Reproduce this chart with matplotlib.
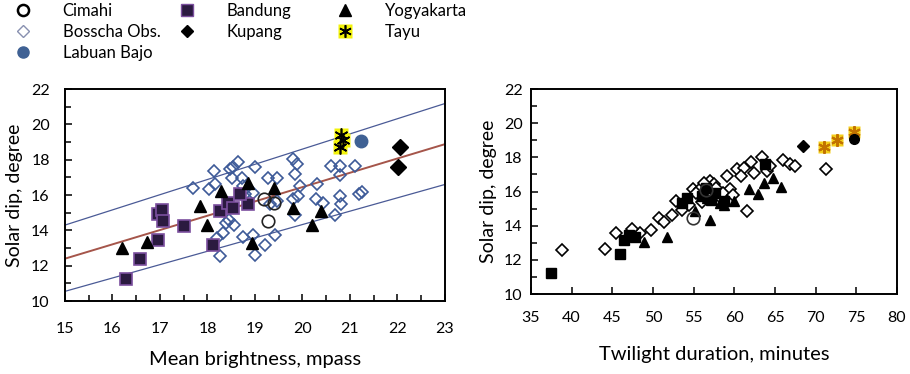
import numpy as np
import matplotlib.pyplot as plt
from matplotlib.lines import Line2D

plt.rcParams['font.family'] = ['Lato', 'DejaVu Sans']

# ---- left panel: mean brightness vs solar dip ----
cim_bx = [19.28, 19.18, 19.39]
cim_by = [14.51, 15.75, 15.56]

bos_bx = [17.70, 18.04, 18.14, 18.16, 18.47, 18.54, 18.65, 18.51, 18.72, 18.74,
          18.79, 19.00, 18.96, 18.40, 18.33, 18.19, 18.26, 18.74, 18.96, 19.00,
          19.21, 19.42, 19.28, 19.46, 19.32, 19.46, 19.81, 19.89, 19.84, 19.95,
          19.91, 19.81, 19.84, 20.30, 20.28, 20.44, 20.61, 20.79, 20.80, 20.78,
          20.82, 20.68, 21.10, 21.20, 21.25, 18.45, 18.55]
bos_by = [16.38, 16.32, 17.37, 16.61, 17.47, 17.56, 17.85, 16.99, 16.99, 16.51,
          16.04, 17.56, 16.13, 14.42, 13.85, 13.56, 12.57, 13.60, 13.75, 12.61,
          13.18, 13.75, 16.99, 16.99, 15.47, 15.66, 18.04, 17.75, 17.18, 16.51,
          15.94, 15.75, 14.86, 16.61, 15.75, 15.56, 17.66, 17.66, 17.14, 15.94,
          15.47, 14.86, 17.66, 16.08, 16.19, 14.60, 14.30]

lab_bx = [21.23]
lab_by = [19.05]

ban_bx = [16.28, 16.58, 16.96, 16.96, 17.04, 17.06, 17.50, 18.12, 18.26, 18.44,
          18.54, 18.86, 18.68]
ban_by = [11.24, 12.36, 13.47, 14.90, 15.18, 14.55, 14.23, 13.18, 15.09, 15.56,
          15.28, 15.47, 16.04]

kup_bx = [22.05, 22.02]
kup_by = [18.70, 17.56]

yog_bx = [16.21, 16.73, 17.84, 17.98, 18.28, 18.86, 18.93, 19.39, 19.81, 20.19, 20.38]
yog_by = [13.03, 13.37, 15.37, 14.32, 16.23, 16.70, 13.28, 16.42, 15.28, 14.32, 15.09]

tay_bx = [20.82, 20.86, 20.79]
tay_by = [19.40, 19.10, 18.70]

# regression line and band (end points at x = 15 and 23)
fit_x = [15, 23]
fit_mid = [12.40, 18.88]
fit_up = [14.30, 21.18]
fit_lo = [10.55, 16.60]

# ---- right panel: twilight duration vs solar dip ----
cim_tx = [54.9, 56.5]
cim_ty = [14.45, 16.1]

bos_tx = [38.8, 44.1, 45.5, 48.4, 49.7, 50.7, 52.3, 52.8, 54.9, 55.8,
          57.0, 57.5, 59.1, 59.5, 60.3, 61.2, 62.0, 62.4, 63.4, 64.0,
          64.4, 66.0, 66.9, 67.5, 61.6, 71.3, 56.0, 58.1, 53.6, 55.3,
          56.3, 57.8, 58.6, 59.8, 54.4, 51.4, 47.4, 60.8]
bos_ty = [12.57, 12.61, 13.60, 13.56, 13.75, 14.45, 14.60, 15.47, 16.12, 16.12,
          16.61, 16.42, 16.91, 16.12, 17.30, 17.40, 17.70, 17.10, 18.04, 17.20,
          17.50, 17.84, 17.60, 17.50, 14.84, 17.30, 15.40, 15.73, 14.90, 15.90,
          16.50, 16.20, 15.90, 15.80, 15.20, 14.20, 13.80, 16.90]

lab_tx = [74.75]
lab_ty = [19.08]

ban_tx = [37.5, 46.0, 46.4, 47.0, 47.8, 53.6, 54.2, 56.0, 57.1, 58.7, 63.8,
          56.5, 57.6]
ban_ty = [11.25, 12.37, 13.16, 13.46, 13.36, 15.33, 15.63, 15.73, 15.53, 15.43, 17.60,
          16.20, 15.90]

kup_tx = [68.5]
kup_ty = [18.69]

yog_tx = [48.9, 51.7, 55.2, 57.0, 58.7, 59.9, 61.8, 62.9, 63.6, 64.8, 65.7,
          56.6, 58.2]
yog_ty = [13.06, 13.36, 14.84, 14.35, 15.23, 15.43, 16.12, 15.87, 16.52, 16.81, 16.26,
          15.60, 15.30]

tay_tx = [71.0, 72.6, 74.75]
tay_ty = [18.63, 19.02, 19.48]

fig = plt.figure(figsize=(9.1, 3.74), dpi=100)
axL = fig.add_axes([0.0714, 0.195, 0.4176, 0.567])
axR = fig.add_axes([0.5835, 0.2139, 0.4022, 0.5481])

blue = '#3d5a98'
purple_edge = '#7b4f9e'
ms = 8

# left panel
axL.plot(fit_x, fit_up, color='#4a5a96', lw=0.9, zorder=1)
axL.plot(fit_x, fit_lo, color='#4a5a96', lw=0.9, zorder=1)
axL.plot(fit_x, fit_mid, color='#a5554a', lw=1.4, zorder=1)
axL.plot(bos_bx, bos_by, 'D', ms=6.5, mfc='none', mec=blue, mew=1.2, ls='none')
axL.plot(ban_bx, ban_by, 's', ms=ms, mfc='#2b1a40', mec=purple_edge, mew=1.2, ls='none')
axL.plot(yog_bx, yog_by, '^', ms=ms, color='black', ls='none')
axL.plot(cim_bx, cim_by, 'o', ms=9, mfc='none', mec='#222222', mew=1.2, ls='none')
axL.plot(kup_bx, kup_by, 'D', ms=ms, color='black', ls='none')
axL.plot(lab_bx, lab_by, 'o', ms=9, color='#3f6194', ls='none')
axL.plot(tay_bx, tay_by, 's', ms=10, color='#f2f20a', mec='none', ls='none')
axL.plot(tay_bx, tay_by, marker=(6, 2, 0), ms=10, color='black', mew=1.2, ls='none')

axL.set_xlim(15, 23)
axL.set_ylim(10, 22)
axL.set_xticks(np.arange(15, 24, 1))
axL.set_xticks(np.arange(15, 23.01, 0.5), minor=True)
axL.set_yticks(np.arange(10, 23, 2))
axL.set_yticks(np.arange(10, 22.01, 1), minor=True)
axL.set_xlabel('Mean brightness, mpass', fontsize=14.5, labelpad=11)
axL.set_ylabel('Solar dip, degree', fontsize=14, labelpad=6)

# right panel
axR.plot(bos_tx, bos_ty, 'D', ms=6.5, mfc='white', mec='black', mew=1.2, ls='none')
axR.plot(ban_tx, ban_ty, 's', ms=7, color='black', ls='none')
axR.plot(yog_tx, yog_ty, '^', ms=7, color='black', ls='none')
axR.plot(cim_tx, cim_ty, 'o', ms=9, mfc='none', mec='#333333', mew=1.2, ls='none')
axR.plot(kup_tx, kup_ty, 'D', ms=6, color='black', ls='none')
axR.plot(tay_tx, tay_ty, 's', ms=9, color='#f4cf1a', mec='none', ls='none')
axR.plot(tay_tx, tay_ty, marker=(6, 2, 0), ms=9, color='#c27200', mew=1.5, ls='none')
axR.plot(lab_tx, lab_ty, 'o', ms=7, color='black', ls='none')

axR.set_xlim(35, 80)
axR.set_ylim(10, 22)
axR.set_xticks(np.arange(35, 81, 5))
axR.set_yticks(np.arange(10, 23, 2))
axR.set_yticks(np.arange(10, 22.01, 1), minor=True)
axR.set_xlabel('Twilight duration, minutes', fontsize=14.5, labelpad=15)
axR.set_ylabel('Solar dip, degree', fontsize=14, labelpad=5)

for ax in (axL, axR):
    for s in ax.spines.values():
        s.set_linewidth(1.4)
    ax.tick_params(which='both', direction='in', top=False, right=False,
                   labelsize=11.5, width=1.1)
    ax.tick_params(which='major', length=5)
    ax.tick_params(which='minor', length=4)
axL.tick_params(axis='y', which='major', pad=11)
axR.tick_params(axis='y', which='major', pad=6)
axL.tick_params(axis='x', which='major', pad=15)
axR.tick_params(axis='x', which='major', pad=12)

# legend in three columns at the top
def h(**kw):
    return Line2D([], [], ls='none', **kw)

tay_h = (h(marker='s', ms=10, color='#f2f20a', mec='none'),
         h(marker=(6, 2, 0), ms=9, color='black', mew=1.2))
cols = [
    ([h(marker='o', ms=8, mfc='none', mec='black', mew=1.8),
      h(marker='D', ms=6, mfc='none', mec='#8890b0', mew=1.0),
      h(marker='o', ms=8, color='#3f6194')],
     ['Cimahi', 'Bosscha Obs.', 'Labuan Bajo'], 0.003),
    ([h(marker='s', ms=8, mfc='#2b1a40', mec=purple_edge),
      h(marker='D', ms=6, color='black')],
     ['Bandung', 'Kupang'], 0.183),
    ([h(marker='^', ms=8, color='black'), tay_h],
     ['Yogyakarta', 'Tayu'], 0.357),
]
for handles, labels, x0 in cols:
    fig.legend(handles, labels, loc='upper left', bbox_to_anchor=(x0, 1.02),
               frameon=False, fontsize=12, handlelength=1.2, handletextpad=1.8,
               labelspacing=0.3, borderaxespad=0.2)

fig.savefig('out.png', dpi=100)
